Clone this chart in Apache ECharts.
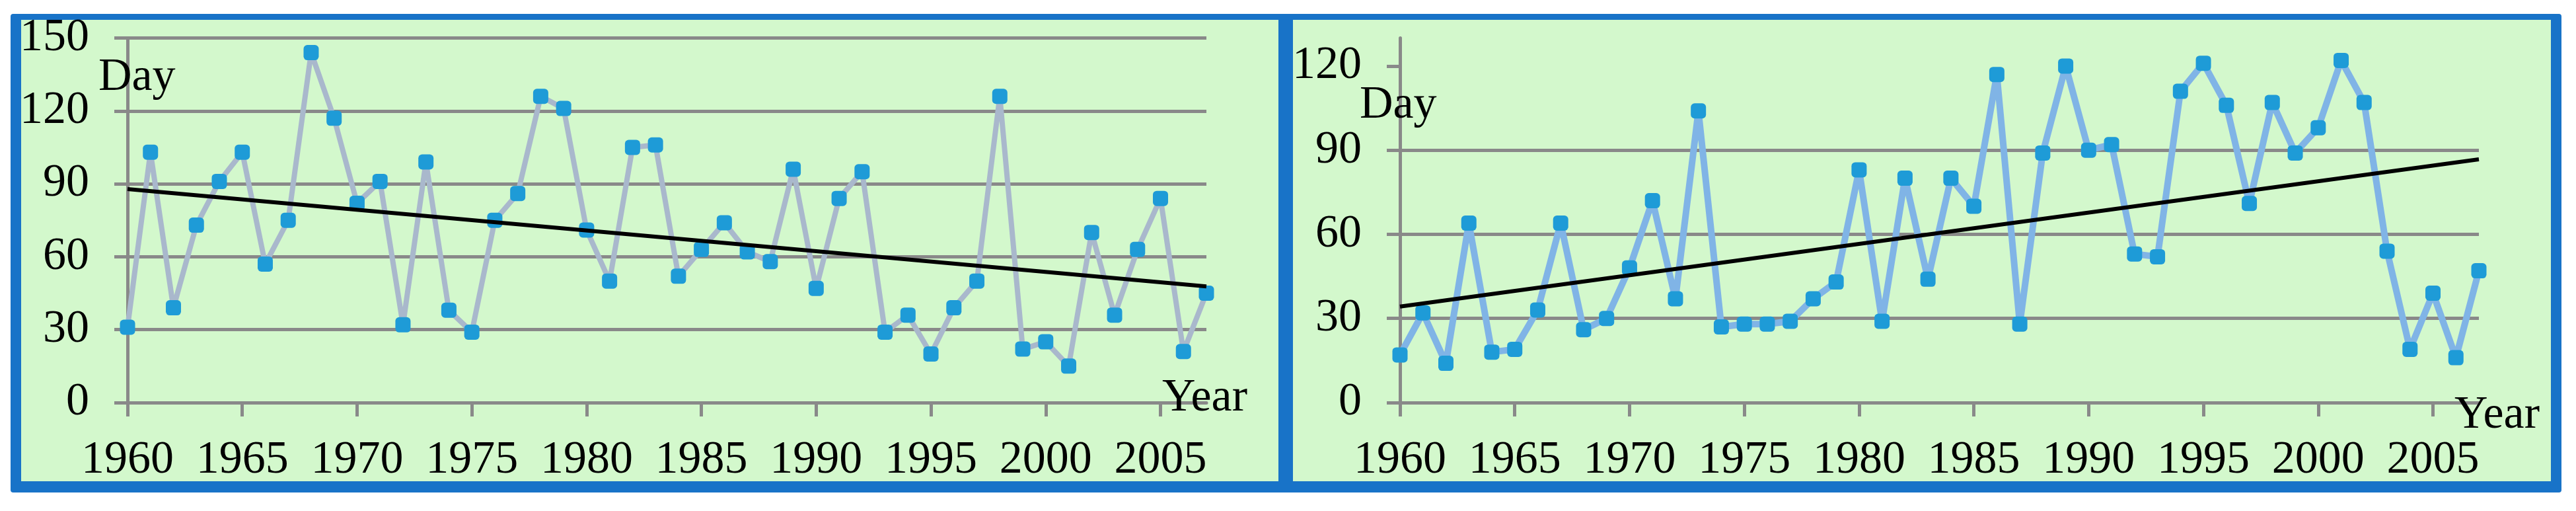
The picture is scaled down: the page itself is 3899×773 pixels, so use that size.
<!DOCTYPE html>
<html>
<head>
<meta charset="utf-8">
<title>Day / Year</title>
<script src="https://cdn.jsdelivr.net/npm/echarts@6/dist/echarts.min.js"></script>
<style>
    html, body { margin: 0; padding: 0; background: #ffffff; }
    #chart { width: 3899px; height: 773px; }
</style>
</head>
<body>
<div id="chart"></div>
<script>
// 数据
const years = [
    1960, 1961, 1962, 1963, 1964, 1965, 1966, 1967, 1968, 1969,
    1970, 1971, 1972, 1973, 1974, 1975, 1976, 1977, 1978, 1979,
    1980, 1981, 1982, 1983, 1984, 1985, 1986, 1987, 1988, 1989,
    1990, 1991, 1992, 1993, 1994, 1995, 1996, 1997, 1998, 1999,
    2000, 2001, 2002, 2003, 2004, 2005, 2006, 2007
];

const leftDays = [
    31, 103, 39, 73, 91, 103, 57, 75, 144, 117,
    82, 91, 32, 99, 38, 29, 75, 86, 126, 121,
    71, 50, 105, 106, 52, 63, 74, 62, 58, 96,
    47, 84, 95, 29, 36, 20, 39, 50, 126, 22,
    25, 15, 70, 36, 63, 84, 21, 45
];

const rightDays = [
    17, 32, 14, 64, 18, 19, 33, 64, 26, 30,
    48, 72, 37, 104, 27, 28, 28, 29, 37, 43,
    83, 29, 80, 44, 80, 70, 117, 28, 89, 120,
    90, 92, 53, 52, 111, 121, 106, 71, 107, 89,
    98, 122, 107, 54, 19, 39, 16, 47
];

const xTickYears = [1960, 1965, 1970, 1975, 1980, 1985, 1990, 1995, 2000, 2005];
const leftYTicks = [0, 30, 60, 90, 120, 150];
const rightYTicks = [0, 30, 60, 90, 120];

// 样式
const FONT = "'Liberation Serif', 'Times New Roman', serif";
const FONT_SIZE = 70;
const GRID_GRAY = '#898989';
const MARKER = '#1e9bd7';
const FRAME_BLUE = '#1873c8';
const PANEL_GREEN = '#d3f8cc';

// 线性趋势（最小二乘）
function trendLine(xs, ys) {
    const n = xs.length;
    let sx = 0, sy = 0, sxx = 0, sxy = 0;
    for (let i = 0; i < n; i++) {
        sx += xs[i]; sy += ys[i];
        sxx += xs[i] * xs[i]; sxy += xs[i] * ys[i];
    }
    const b = (n * sxy - sx * sy) / (n * sxx - sx * sx);
    const a = (sy - b * sx) / n;
    const x0 = xs[0], x1 = xs[n - 1];
    return [[x0, a + b * x0], [x1, a + b * x1]];
}

function pairs(xs, ys) {
    return xs.map((x, i) => [x, ys[i]]);
}

function plain(v) {
    return String(v);
}

function xAxisFor(gridIndex) {
    return {
        type: 'value',
        gridIndex: gridIndex,
        min: 1960,
        max: 2007,
        interval: 5,
        axisLine: { show: true, onZero: false, lineStyle: { color: GRID_GRAY, width: 5 } },
        axisTick: {
            show: true, length: 21, customValues: xTickYears,
            lineStyle: { color: GRID_GRAY, width: 5 }
        },
        axisLabel: {
            customValues: xTickYears,
            formatter: plain,
            margin: 53,
            color: '#000',
            fontFamily: FONT,
            fontSize: FONT_SIZE
        },
        splitLine: { show: false }
    };
}

function yAxisFor(gridIndex, max, ticks) {
    return {
        type: 'value',
        gridIndex: gridIndex,
        min: 0,
        max: max,
        interval: 30,
        axisLine: { show: true, lineStyle: { color: GRID_GRAY, width: 5 } },
        axisTick: {
            show: true, length: 20, customValues: ticks,
            lineStyle: { color: GRID_GRAY, width: 5 }
        },
        axisLabel: {
            customValues: ticks,
            formatter: plain,
            margin: 58,
            color: '#000',
            fontFamily: FONT,
            fontSize: FONT_SIZE
        },
        splitLine: {
            show: true,
            showMinLine: false,
            showMaxLine: max % 30 === 0,
            lineStyle: { color: GRID_GRAY, width: 5 }
        }
    };
}

function dataSeries(idx, values, lineColor, lineWidth) {
    return {
        type: 'line',
        xAxisIndex: idx,
        yAxisIndex: idx,
        data: pairs(years, values),
        symbol: 'roundRect',
        symbolSize: 23,
        showAllSymbol: true,
        itemStyle: { color: MARKER },
        lineStyle: { color: lineColor, width: lineWidth },
        z: 3,
        animation: false
    };
}

function trendSeries(idx, values) {
    return {
        type: 'line',
        xAxisIndex: idx,
        yAxisIndex: idx,
        data: trendLine(years, values),
        symbol: 'none',
        lineStyle: { color: '#000', width: 6 },
        z: 5,
        animation: false
    };
}

function label(text, x, y) {
    return {
        type: 'text',
        x: x,
        y: y,
        z: 100,
        style: {
            text: text,
            font: FONT_SIZE + 'px ' + FONT,
            fill: '#000',
            textVerticalAlign: 'top'
        }
    };
}

const option = {
    backgroundColor: '#ffffff',
    animation: false,
    graphic: [
        { type: 'rect', z: -10, shape: { x: 16, y: 21, width: 3861, height: 724, r: 4 }, style: { fill: FRAME_BLUE } },
        { type: 'rect', z: -9, shape: { x: 32, y: 30, width: 1903, height: 698 }, style: { fill: PANEL_GREEN } },
        { type: 'rect', z: -9, shape: { x: 1957, y: 30, width: 1904, height: 698 }, style: { fill: PANEL_GREEN } },
        label('Day', 149, 83),
        label('Year', 1759, 568),
        label('Day', 2058, 125),
        label('Year', 3715, 594)
    ],
    grid: [
        { left: 193, right: 2073, top: 57.5, bottom: 164, containLabel: false },
        { left: 2119, right: 147, top: 57.5, bottom: 164, containLabel: false }
    ],
    xAxis: [xAxisFor(0), xAxisFor(1)],
    yAxis: [yAxisFor(0, 150, leftYTicks), yAxisFor(1, 130, rightYTicks)],
    series: [
        dataSeries(0, leftDays, '#a9b8cc', 8),
        trendSeries(0, leftDays),
        dataSeries(1, rightDays, '#80b4e6', 10),
        trendSeries(1, rightDays)
    ]
};

const myChart = echarts.init(document.getElementById('chart'), null, { renderer: 'canvas' });
myChart.setOption(option);
</script>
</body>
</html>
